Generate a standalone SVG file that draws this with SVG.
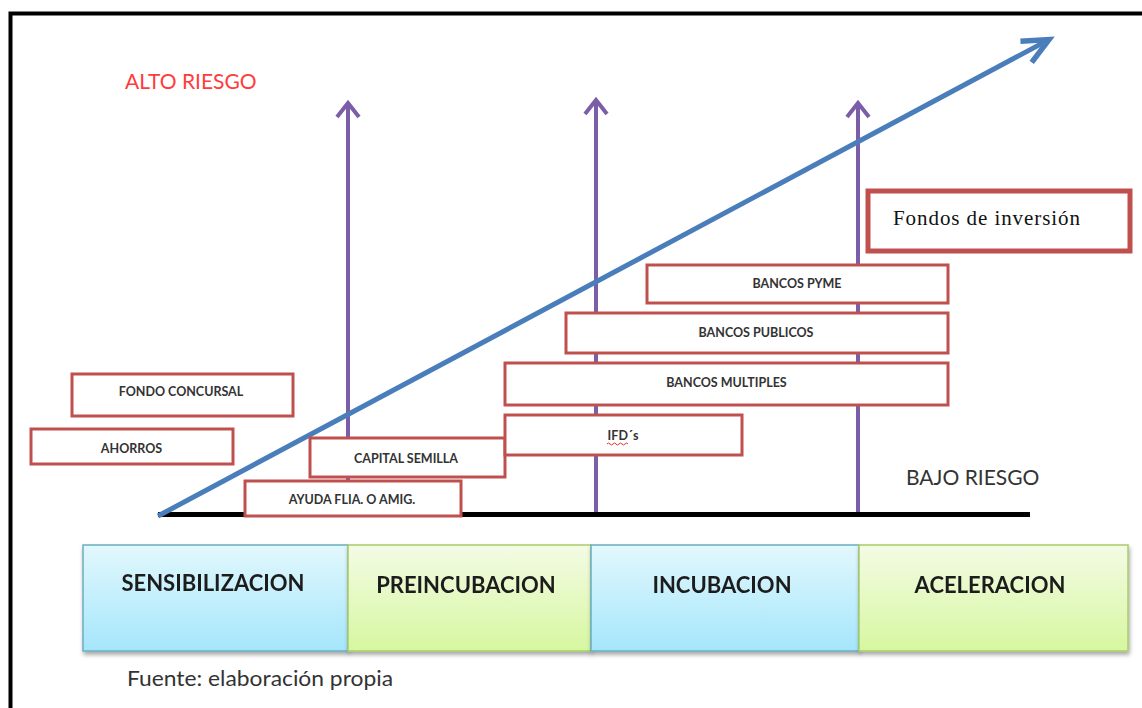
<svg xmlns="http://www.w3.org/2000/svg" width="1142" height="708" viewBox="0 0 1142 708">
  <style>
    .box { fill: #ffffff; stroke: #c0504d; stroke-width: 3; }
    .lbl { font-family: Lato, "Open Sans", sans-serif; font-weight: bold; font-size: 12.5px; fill: #333333; text-anchor: middle; }
    .stage { font-family: Lato, "Open Sans", sans-serif; font-weight: bold; font-size: 22px; fill: #1f1f1f; text-anchor: middle; }
    .blueStage { fill: url(#gBlue); stroke: #6aaec0; stroke-width: 1.5; }
    .greenStage { fill: url(#gGreen); stroke: #a9cc6a; stroke-width: 1.5; }
    .risk { font-family: Lato, "Open Sans", sans-serif; font-size: 21px; }
    .purple { stroke: #7b5ea7; stroke-width: 4; fill: none; }
  </style>
  <defs>
    <linearGradient id="gBlue" x1="0" y1="0" x2="0" y2="1">
      <stop offset="0" stop-color="#e2f8fd"/>
      <stop offset="1" stop-color="#a5e6fb"/>
    </linearGradient>
    <linearGradient id="gGreen" x1="0" y1="0" x2="0" y2="1">
      <stop offset="0" stop-color="#f4fbe5"/>
      <stop offset="1" stop-color="#d6f7a0"/>
    </linearGradient>
    <filter id="shadow" x="-5%" y="-10%" width="110%" height="130%">
      <feDropShadow dx="1" dy="3" stdDeviation="2" flood-color="#000000" flood-opacity="0.35"/>
    </filter>
    <marker id="purpleHead" markerUnits="userSpaceOnUse" markerWidth="40" markerHeight="40" viewBox="-20 -20 40 40" refX="0" refY="0" orient="auto" overflow="visible">
      <path d="M-14,-11 L0,0 L-14,11" fill="none" stroke="#7b5ea7" stroke-width="4"/>
    </marker>
    <marker id="blueHead" markerUnits="userSpaceOnUse" markerWidth="60" markerHeight="60" viewBox="-30 -30 60 60" refX="0" refY="0" orient="auto" overflow="visible">
      <path d="M-26,-12 L0,0 L-26,12" fill="none" stroke="#4a7ebb" stroke-width="5.5"/>
    </marker>
  </defs>

  <rect x="0" y="0" width="1142" height="708" fill="#ffffff"/>

  <!-- frame -->
  <path d="M10.5,712 V13.5 H1146" fill="none" stroke="#000000" stroke-width="4"/>

  <!-- connectors -->
  <g id="connectors">
    <line x1="348" y1="514" x2="348" y2="103" class="purple" marker-end="url(#purpleHead)"/>
    <line x1="596" y1="514" x2="596" y2="100" class="purple" marker-end="url(#purpleHead)"/>
    <line x1="858" y1="514" x2="858" y2="103" class="purple" marker-end="url(#purpleHead)"/>
    <line x1="158" y1="514.5" x2="1030" y2="514.5" stroke="#000000" stroke-width="5"/>
    <line x1="158" y1="516" x2="1049" y2="39.6" stroke="#4a7ebb" stroke-width="5" marker-end="url(#blueHead)"/>
  </g>

  <!-- risk labels -->
  <text x="125" y="89" class="risk" fill="#ff3b3b">ALTO RIESGO</text>
  <text x="906" y="485" class="risk" fill="#333333">BAJO RIESGO</text>

  <!-- funding boxes -->
  <g id="fondo-concursal">
    <rect x="72" y="374" width="221" height="42" class="box"/>
    <text x="181" y="396" class="lbl">FONDO CONCURSAL</text>
  </g>
  <g id="ahorros">
    <rect x="31" y="429" width="202" height="35" class="box"/>
    <text x="131.5" y="453" class="lbl">AHORROS</text>
  </g>
  <g id="capital-semilla">
    <rect x="310" y="438" width="195" height="39" class="box"/>
    <text x="406" y="463" class="lbl">CAPITAL SEMILLA</text>
  </g>
  <g id="ayuda">
    <rect x="245" y="481" width="216" height="35" class="box"/>
    <text x="352" y="504" class="lbl">AYUDA FLIA. O AMIG.</text>
  </g>
  <g id="ifds">
    <rect x="505" y="415" width="237" height="40" class="box"/>
    <text x="623" y="440" class="lbl">IFD´s</text>
    <path d="M607,444 q1.5,-2 3,0 t3,0 t3,0 t3,0 t3,0 t3,0 t3,0" fill="none" stroke="#e03030" stroke-width="1"/>
  </g>
  <g id="bancos-multiples">
    <rect x="505" y="363" width="443" height="42" class="box"/>
    <text x="726.5" y="387" class="lbl">BANCOS MULTIPLES</text>
  </g>
  <g id="bancos-publicos">
    <rect x="566" y="313" width="382" height="40" class="box"/>
    <text x="756" y="337" class="lbl">BANCOS PUBLICOS</text>
  </g>
  <g id="bancos-pyme">
    <rect x="647" y="265" width="301" height="38" class="box"/>
    <text x="797" y="288" class="lbl">BANCOS PYME</text>
  </g>
  <g id="fondos-inversion">
    <rect x="868" y="191" width="262" height="60" fill="#ffffff" stroke="#c0504d" stroke-width="5"/>
    <text x="893" y="225" font-family="'Liberation Serif', 'DejaVu Serif', serif" font-size="21px" fill="#111111" textLength="187" lengthAdjust="spacing">Fondos de inversión</text>
  </g>

  <!-- stages -->
  <g id="sensibilizacion" filter="url(#shadow)">
    <rect x="83" y="545" width="265" height="106" class="blueStage"/>
    <text x="213" y="591" class="stage">SENSIBILIZACION</text>
  </g>
  <g id="preincubacion" filter="url(#shadow)">
    <rect x="348" y="545" width="243" height="106" class="greenStage"/>
    <text x="466" y="593" class="stage">PREINCUBACION</text>
  </g>
  <g id="incubacion" filter="url(#shadow)">
    <rect x="591" y="545" width="268" height="106" class="blueStage"/>
    <text x="722" y="593" class="stage">INCUBACION</text>
  </g>
  <g id="aceleracion" filter="url(#shadow)">
    <rect x="859" y="545" width="269" height="106" class="greenStage"/>
    <text x="990" y="593" class="stage">ACELERACION</text>
  </g>

  <text x="127" y="686" font-family="Lato, 'Open Sans', sans-serif" font-size="21px" fill="#333333" textLength="266" lengthAdjust="spacingAndGlyphs">Fuente: elaboración propia</text>
</svg>
